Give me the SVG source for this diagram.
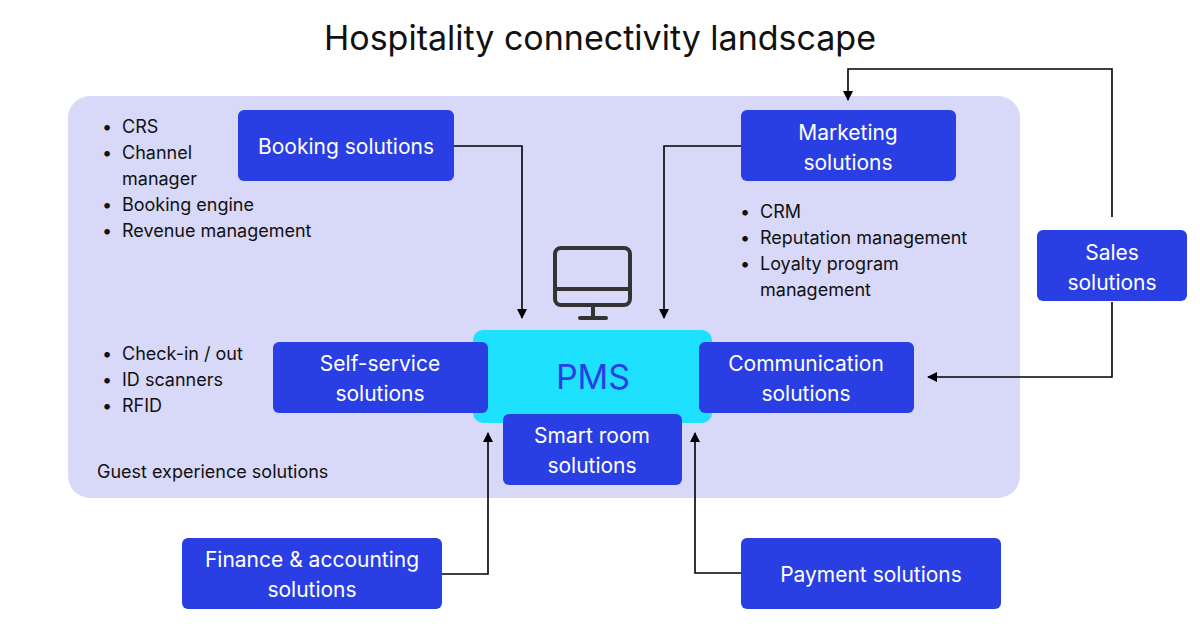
<svg xmlns="http://www.w3.org/2000/svg" width="1200" height="630" viewBox="0 0 1200 630">
<defs>
<marker id="ah" markerWidth="10" markerHeight="10" refX="9" refY="5" orient="auto" markerUnits="userSpaceOnUse"><path d="M0,0 L10,5 L0,10 z" fill="#000"/></marker>
<style>
text{font-family:Inter,"Noto Sans",sans-serif}
.b{fill:#2a3fe3}
.bt{fill:#fff;font-size:21px;text-anchor:middle}
.l{fill:#111;font-size:18px}
.c{fill:none;stroke:#000;stroke-width:1.6;marker-end:url(#ah)}
</style>
</defs>
<rect width="1200" height="630" fill="#fff"/>
<text x="600" y="50" font-size="34" text-anchor="middle" fill="#111">Hospitality connectivity landscape</text>
<g id="guest-area"><rect x="68" y="96" width="952" height="402" rx="22" fill="#d8d8f8"/>
<text class="l" x="97" y="478" font-size="20">Guest experience solutions</text></g>
<g id="connectors">
<path class="c" d="M454,146 H522 V318"/>
<path class="c" d="M741,146 H664 V318"/>
<path class="c" d="M1112,302 V377 H928"/>
<path class="c" d="M1112,217 V69 H848 V100"/>
<path class="c" d="M442,574 H488 V433"/>
<path class="c" d="M741,573 H695 V433"/>
</g>
<g id="pms"><rect x="473" y="330" width="239" height="93" rx="10" fill="#1ee0ff"/>
<text x="593" y="389" font-size="34" text-anchor="middle" fill="#2a3fe3">PMS</text>
<g fill="none" stroke="#333" stroke-width="4" stroke-linecap="round"><rect x="555" y="248" width="75" height="57" rx="6"/><line x1="555" y1="289" x2="630" y2="289"/><line x1="593" y1="305" x2="593" y2="317"/><line x1="580" y1="318" x2="606" y2="318"/></g></g>
<g id="booking"><rect class="b" x="238" y="110" width="216" height="71" rx="6"/><text class="bt" x="346" y="154">Booking solutions</text></g>
<g id="marketing"><rect class="b" x="741" y="110" width="215" height="71" rx="6"/><text class="bt" x="848" y="140">Marketing</text><text class="bt" x="848" y="170">solutions</text></g>
<g id="sales"><rect class="b" x="1037" y="230" width="150" height="71" rx="6"/><text class="bt" x="1112" y="260">Sales</text><text class="bt" x="1112" y="290">solutions</text></g>
<g id="selfservice"><rect class="b" x="273" y="342" width="215" height="71" rx="6"/><text class="bt" x="380" y="371">Self-service</text><text class="bt" x="380" y="401">solutions</text></g>
<g id="communication"><rect class="b" x="699" y="342" width="215" height="71" rx="6"/><text class="bt" x="806" y="371">Communication</text><text class="bt" x="806" y="401">solutions</text></g>
<g id="smartroom"><rect class="b" x="503" y="414" width="179" height="71" rx="6"/><text class="bt" x="592" y="443">Smart room</text><text class="bt" x="592" y="473">solutions</text></g>
<g id="finance"><rect class="b" x="182" y="538" width="260" height="71" rx="6"/><text class="bt" x="312" y="567">Finance &amp; accounting</text><text class="bt" x="312" y="597">solutions</text></g>
<g id="payment"><rect class="b" x="741" y="538" width="260" height="71" rx="6"/><text class="bt" x="871" y="582">Payment solutions</text></g>
<g id="lists" class="l">
<text x="102" y="133">•</text><text x="122" y="133">CRS</text>
<text x="102" y="159">•</text><text x="122" y="159">Channel</text><text x="122" y="185">manager</text>
<text x="102" y="211">•</text><text x="122" y="211">Booking engine</text>
<text x="102" y="237">•</text><text x="122" y="237">Revenue management</text>
<text x="740" y="218">•</text><text x="760" y="218">CRM</text>
<text x="740" y="244">•</text><text x="760" y="244">Reputation management</text>
<text x="740" y="270">•</text><text x="760" y="270">Loyalty program</text><text x="760" y="296">management</text>
<text x="102" y="360">•</text><text x="122" y="360">Check-in / out</text>
<text x="102" y="386">•</text><text x="122" y="386">ID scanners</text>
<text x="102" y="412">•</text><text x="122" y="412">RFID</text>
</g>
</svg>
